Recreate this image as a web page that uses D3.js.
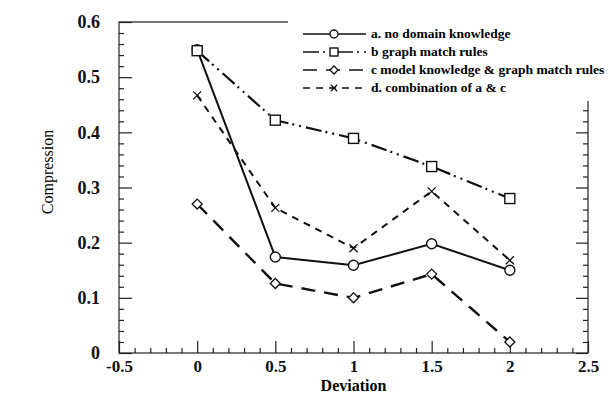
<!DOCTYPE html>
<html>
<head>
<meta charset="utf-8">
<script src="https://cdn.jsdelivr.net/npm/d3@7"></script>
<style>
  body { margin: 0; background: #fff; }
  svg { display: block; }
</style>
</head>
<body>
<div id="chart"></div>
<script>
// values
const deviation = [0, 0.5, 1, 1.5, 2];
const noDomain = [0.55, 0.174, 0.159, 0.198, 0.15];
const graphMatch = [0.548, 0.422, 0.389, 0.338, 0.28];
const modelGraph = [0.27, 0.126, 0.1, 0.143, 0.02];
const combination = [0.467, 0.263, 0.19, 0.293, 0.168];
const xTicks = [-0.5, 0, 0.5, 1, 1.5, 2, 2.5];
const yTicks = [0, 0.1, 0.2, 0.3, 0.4, 0.5, 0.6];
const legendLabels = [
  "a. no domain knowledge",
  "b  graph match rules",
  "c  model knowledge & graph match rules",
  "d. combination of a & c"
];

const width = 615, height = 405;
const font = "'Liberation Serif', 'Times New Roman', serif";

const x = d3.scaleLinear().domain([-0.5, 2.5]).range([119, 588]);
const y = d3.scaleLinear().domain([0, 0.6]).range([353, 22]);

const svg = d3.select("#chart").append("svg")
  .attr("width", width)
  .attr("height", height)
  .style("background", "#fff");

// frame
svg.append("rect")
  .attr("x", x(-0.5)).attr("y", y(0.6))
  .attr("width", x(2.5) - x(-0.5)).attr("height", y(0) - y(0.6))
  .attr("fill", "none").attr("stroke", "#222").attr("stroke-width", 1.2);

// bottom axis
const xMinor = d3.range(-0.4, 2.5, 0.1).filter(v => Math.abs(v * 2 - Math.round(v * 2)) > 0.01);
svg.append("g")
  .attr("transform", `translate(0,${y(0)})`)
  .call(d3.axisBottom(x).tickValues(xMinor).tickSize(-5).tickFormat(""))
  .call(g => g.select(".domain").remove());
svg.append("g")
  .attr("transform", `translate(0,${y(0)})`)
  .call(d3.axisBottom(x).tickValues(xTicks).tickSize(-12).tickPadding(7).tickFormat(d => String(d)))
  .call(g => g.select(".domain").remove())
  .selectAll("text").style("font", `bold 17px ${font}`).attr("fill", "#111");

// left axis
const yMinor = d3.range(0.02, 0.6, 0.02).filter(v => Math.abs(v * 10 - Math.round(v * 10)) > 0.01);
svg.append("g")
  .attr("transform", `translate(${x(-0.5)},0)`)
  .call(d3.axisLeft(y).tickValues(yMinor).tickSize(-5).tickFormat(""))
  .call(g => g.select(".domain").remove());
svg.append("g")
  .attr("transform", `translate(${x(-0.5)},0)`)
  .call(d3.axisLeft(y).tickValues(yTicks).tickSize(-13).tickPadding(19).tickFormat(d => String(d)))
  .call(g => g.select(".domain").remove())
  .selectAll("text").style("font", `bold 18px ${font}`).attr("fill", "#111");

// right axis ticks
svg.append("g")
  .attr("transform", `translate(${x(2.5)},0)`)
  .call(d3.axisRight(y).tickValues(yMinor).tickSize(-5).tickFormat(""))
  .call(g => g.select(".domain").remove());
svg.append("g")
  .attr("transform", `translate(${x(2.5)},0)`)
  .call(d3.axisRight(y).tickValues(yTicks).tickSize(-12).tickFormat(""))
  .call(g => g.select(".domain").remove());

svg.selectAll(".tick line").attr("stroke", "#222").attr("stroke-width", 1.2);

// axis titles
svg.append("text")
  .attr("x", x(1)).attr("y", 391)
  .attr("text-anchor", "middle")
  .style("font", `bold 16px ${font}`)
  .text("Deviation");
svg.append("text")
  .attr("transform", `translate(53,172) rotate(-90)`)
  .attr("text-anchor", "middle")
  .style("font", `16px ${font}`)
  .text("Compression");

const series = [
  { values: noDomain, dash: null, marker: "circle", w: 2 },
  { values: graphMatch, dash: "16,4,2,5,2,5", marker: "square", w: 2.2 },
  { values: modelGraph, dash: "14,9", marker: "diamond", w: 2.4 },
  { values: combination, dash: "7,6", marker: "cross", w: 2 }
];

const line = d3.line().x((d, i) => x(deviation[i])).y(d => y(d));

function drawMarker(g, type, cx, cy, r) {
  if (type === "circle") {
    g.append("circle").attr("cx", cx).attr("cy", cy).attr("r", r)
      .attr("fill", "#fff").attr("stroke", "#111").attr("stroke-width", 1.4);
  } else if (type === "square") {
    g.append("rect").attr("x", cx - r).attr("y", cy - r).attr("width", 2 * r).attr("height", 2 * r)
      .attr("fill", "#fff").attr("stroke", "#111").attr("stroke-width", 1.4);
  } else if (type === "diamond") {
    g.append("path")
      .attr("d", `M${cx - r},${cy}L${cx},${cy - r}L${cx + r},${cy}L${cx},${cy + r}Z`)
      .attr("fill", "#fff").attr("stroke", "#111").attr("stroke-width", 1.3);
  } else {
    const k = r * 0.8;
    g.append("path")
      .attr("d", `M${cx - k},${cy - k}L${cx + k},${cy + k}M${cx - k},${cy + k}L${cx + k},${cy - k}`)
      .attr("stroke", "#111").attr("stroke-width", 1.3);
  }
}

series.forEach(s => {
  svg.append("path")
    .datum(s.values)
    .attr("d", line)
    .attr("fill", "none")
    .attr("stroke", "#111")
    .attr("stroke-width", s.w)
    .attr("stroke-dasharray", s.dash);
  const mg = svg.append("g");
  s.values.forEach((v, i) => drawMarker(mg, s.marker, x(deviation[i]), y(v), 5));
});

// legend (white box hiding the frame corner, as in the scan)
svg.append("rect")
  .attr("x", 288).attr("y", 15)
  .attr("width", width - 288).attr("height", 86)
  .attr("fill", "#fff");

const legend = svg.append("g");
legendLabels.forEach((label, i) => {
  const ly = 34 + i * 18;
  const s = series[i];
  legend.append("line")
    .attr("x1", 303).attr("x2", 366).attr("y1", ly).attr("y2", ly)
    .attr("stroke", "#111").attr("stroke-width", 1.6)
    .attr("stroke-dasharray", s.dash);
  drawMarker(legend, s.marker, 334, ly, 4);
  legend.append("text")
    .attr("x", 371).attr("y", ly + 4)
    .style("font", `bold 13.5px ${font}`)
    .attr("textLength", null)
    .text(label);
});
</script>
</body>
</html>
